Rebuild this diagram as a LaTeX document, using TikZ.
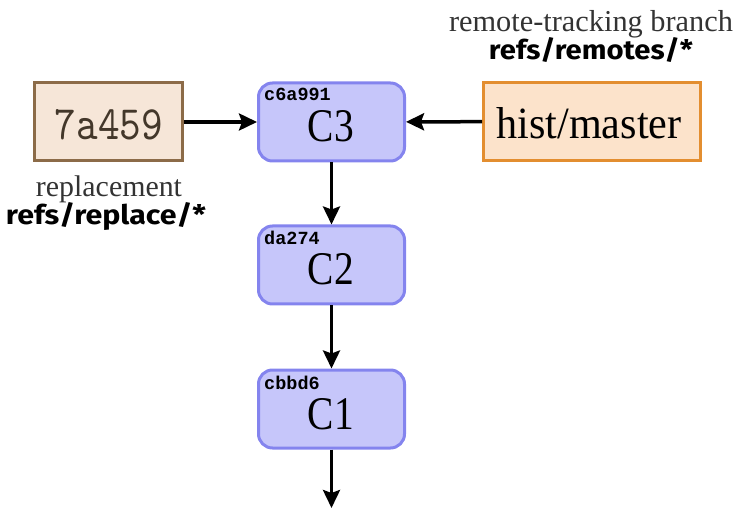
\documentclass[tikz,border=0pt]{standalone}
\usepackage{graphicx}
\usepackage{fontspec}
\setmainfont{Liberation Serif}
\newfontfamily\hashfont{Liberation Mono}
\newfontfamily\reffont{Fira Sans}
\usetikzlibrary{arrows.meta}
\definecolor{cfill}{HTML}{C6C6FA}
\definecolor{cdraw}{HTML}{8484EE}
\definecolor{rfill}{HTML}{F6E6D8}
\definecolor{rdraw}{HTML}{8C6B48}
\definecolor{rtext}{HTML}{43372A}
\definecolor{hfill}{HTML}{FCE3CB}
\definecolor{hdraw}{HTML}{E38E30}
\definecolor{captc}{HTML}{333333}
\tikzset{
  commit/.style={draw=cdraw, fill=cfill, line width=3pt, rounded corners=14pt,
    minimum width=146pt, minimum height=78pt, inner sep=0pt},
  refbox/.style={line width=3pt, minimum height=78pt, inner sep=0pt},
  txt/.style={anchor=base, inner sep=0pt},
  hashlbl/.style={anchor=base west, inner sep=0pt, font=\hashfont\bfseries\fontsize{18.5}{20}\selectfont},
  arr/.style={line width=3.5pt, -{Stealth[length=18pt,width=17pt,inset=3pt]}},
}
\begin{document}
\begin{tikzpicture}[x=1pt,y=-1pt]
\useasboundingbox (0,0) rectangle (745,513);
% commits
\node[commit] (c3) at (331.5,122) {};
\node[commit] (c2) at (331.5,265) {};
\node[commit] (c1) at (331.5,409) {};
\node[txt] (c3t) at (331,142) {\resizebox{46pt}{31pt}{C3}};
\node[txt] (c2t) at (331,285) {\resizebox{46pt}{31pt}{C2}};
\node[txt] (c1t) at (331,429) {\resizebox{46pt}{31pt}{C1}};
\node[hashlbl] (c3h) at (264,101) {c6a991};
\node[hashlbl] (c2h) at (264,245) {da274};
\node[hashlbl] (c1h) at (264,389) {cbbd6};
% refs
\node[refbox, draw=rdraw, fill=rfill, minimum width=148pt] (rep) at (108.5,122) {};
\node[txt, text=rtext] (rept) at (109,140) {\resizebox{108pt}{30pt}{\ttfamily 7a459}};
\node[refbox, draw=hdraw, fill=hfill, minimum width=217pt] (hist) at (592,121.5) {};
\node[txt] (histt) at (589,139) {\resizebox{185pt}{31pt}{hist/master}};
% captions
\node[txt, text=captc] (repcap) at (109,197) {\resizebox{146pt}{!}{replacement}};
\node[txt] (repref) at (106,225) {\resizebox{200pt}{22pt}{\reffont\bfseries refs/replace/*}};
\node[txt, text=captc] (histcap) at (591,32) {\resizebox{284pt}{!}{remote-tracking branch}};
\node[txt] (histref) at (591,60) {\resizebox{204pt}{22pt}{\reffont\bfseries refs/remotes/*}};
% connectors
\coordinate (end) at (331.5,508);
\draw[arr] (rep) -- (c3);
\draw[arr] (hist) -- (c3);
\draw[arr] (c3) -- (c2);
\draw[arr] (c2) -- (c1);
\draw[arr] (c1) -- (end);
\end{tikzpicture}
\end{document}
